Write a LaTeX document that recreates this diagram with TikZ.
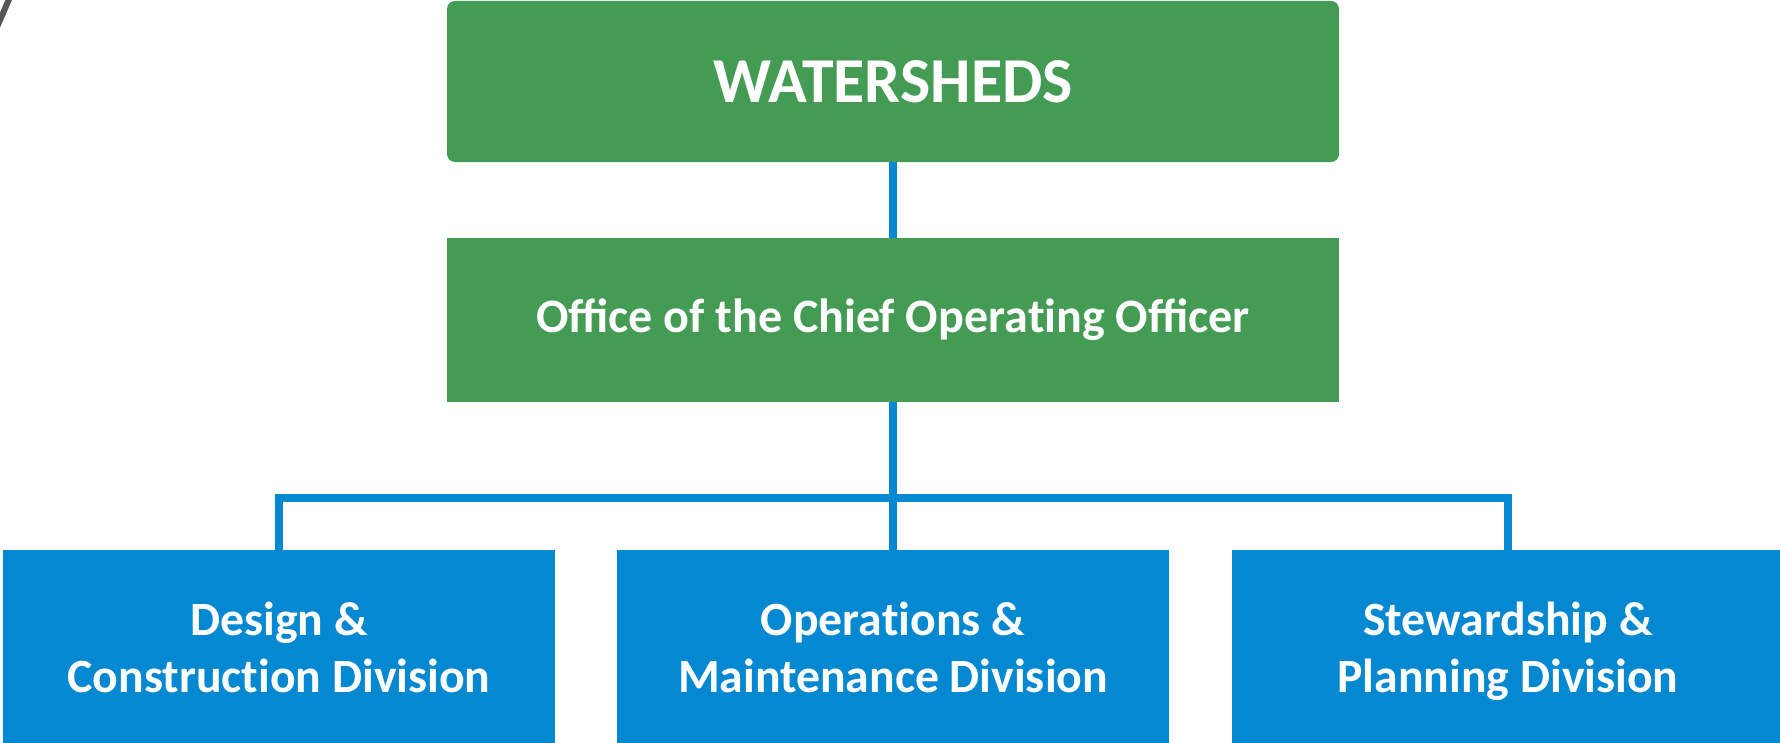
\documentclass[tikz,border=0pt]{standalone}
\usepackage{fontspec}
\setmainfont{Carlito}
\definecolor{wgreen}{HTML}{449C54}
\definecolor{wblue}{HTML}{0388D1}
\definecolor{wgray}{HTML}{555555}
\newcommand{\sept}{\mbox{t}}
\newcommand{\topstrut}{\rule{0pt}{38.9pt}}
\tikzset{
  greenbox/.style={fill=wgreen, draw=none, text=white, font=\bfseries\fontsize{36}{42}\selectfont, align=center, inner sep=0pt},
  bluebox/.style={fill=wblue, draw=none, text=white, font=\bfseries\fontsize{35.8}{42.75}\selectfont, align=center, inner sep=0pt, minimum width=552*0.75pt, minimum height=194*0.75pt},
  link/.style={draw=wblue, line width=6pt, line join=miter, line cap=butt}
}
\begin{document}
\begin{tikzpicture}[x=0.75pt, y=-0.75pt]
\useasboundingbox (0,0) rectangle (1780,742);
\draw[wgray, line width=4.5pt] (-3,27) -- (10,-3);
\node[greenbox, rounded corners=6pt, minimum width=892*0.75pt, minimum height=161*0.75pt, font=\bfseries\fontsize{48}{56}\selectfont] (top) at (893,81.5) {WATERSHEDS};
\node[greenbox, minimum width=892*0.75pt, minimum height=164*0.75pt] (coo) at (893,320) {Office of the Chief Opera\sept ing Officer};
\node[bluebox] (dc) at (279,647) {\topstrut Design \&\\\strut Construc\sept ion Division};
\node[bluebox] (om) at (893,647) {\topstrut Opera\sept ions \&\\\strut Maintenance Division};
\node[bluebox] (sp) at (1508,647) {\topstrut Stewardship \&\\\strut Planning Division};
\coordinate (bar) at (893,498);
\draw[link] (top.south) -- (coo.north);
\draw[link] (coo.south) -- (om.north);
\draw[link] (dc.north) |- (bar) -| (sp.north);
\end{tikzpicture}
\end{document}
